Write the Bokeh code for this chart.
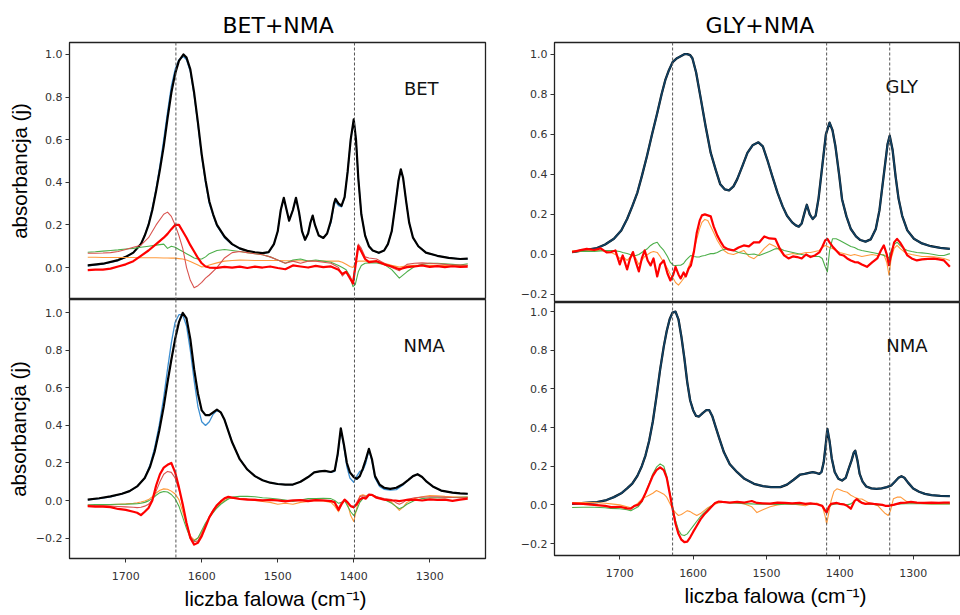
from bokeh.plotting import figure
from bokeh.models import Range1d, Span, Label, Title, FixedTicker, CustomJSTickFormatter
from bokeh.layouts import row, column
from bokeh.embed import file_html
from bokeh.resources import INLINE

# ---------------- data: BET+NMA, top panel (BET) ----------------
TL_x = [1750,1730,1710,1700,1690,1680,1675,1670,1665,1660,1655,1650,1645,1640,1635,1630,1624,1620,1615,1610,
        1605,1600,1595,1590,1585,1580,1570,1560,1550,1540,1530,1520,1512,1505,1500,1496,1492,1489,1485,1480,
        1476,1472,1468,1464,1460,1457,1454,1451,1446,1440,1435,1430,1426,1424,1420,1416,1412,1408,1404,1400,
        1397,1394,1390,1385,1380,1375,1367,1360,1355,1350,1345,1341,1338,1335,1331,1327,1322,1315,1305,1290,
        1275,1260,1250]
TL_black = [0.010,0.018,0.035,0.05,0.07,0.11,0.15,0.2,0.27,0.36,0.46,0.57,0.70,0.82,0.91,0.97,1.0,0.985,0.93,0.82,
            0.68,0.53,0.41,0.31,0.25,0.20,0.145,0.11,0.09,0.078,0.071,0.068,0.072,0.11,0.17,0.27,0.327,0.28,0.22,0.27,
            0.327,0.26,0.17,0.13,0.16,0.21,0.244,0.2,0.15,0.139,0.16,0.22,0.30,0.322,0.30,0.29,0.33,0.45,0.6,0.695,
            0.6,0.42,0.25,0.15,0.1,0.08,0.069,0.08,0.11,0.17,0.30,0.41,0.461,0.42,0.31,0.21,0.14,0.10,0.07,0.055,
            0.045,0.04,0.042]
TL_blue = [0.008,0.016,0.033,0.048,0.07,0.11,0.15,0.205,0.28,0.37,0.48,0.60,0.73,0.85,0.93,0.975,0.99,0.975,0.92,0.81,
           0.67,0.52,0.40,0.30,0.245,0.195,0.14,0.108,0.088,0.077,0.07,0.067,0.071,0.11,0.17,0.27,0.325,0.28,0.22,0.27,
           0.325,0.26,0.17,0.13,0.16,0.21,0.242,0.2,0.15,0.138,0.16,0.21,0.29,0.31,0.29,0.285,0.33,0.45,0.6,0.69,
           0.6,0.42,0.25,0.15,0.1,0.08,0.068,0.08,0.11,0.17,0.30,0.41,0.458,0.42,0.31,0.21,0.14,0.10,0.07,0.055,
           0.045,0.04,0.041]

TLd_x = [1750,1740,1730,1720,1710,1700,1690,1680,1670,1660,1650,1645,1640,1635,1630,1625,1620,1615,1610,1605,
         1600,1595,1590,1580,1570,1560,1550,1540,1530,1520,1510,1500,1490,1480,1470,1460,1450,1440,1430,1420,
         1415,1410,1405,1401,1398,1394,1390,1385,1380,1370,1360,1350,1340,1330,1320,1310,1300,1290,1280,1270,
         1260,1250]
TL_red = [-0.012,-0.01,-0.01,-0.005,0.005,0.015,0.03,0.055,0.08,0.11,0.14,0.158,0.18,0.20,0.20,0.17,0.14,0.105,0.075,0.045,
          0.02,0.005,0.0,-0.002,0.003,0.0,0.004,-0.002,0.004,0.0,0.005,-0.002,-0.008,0.01,0.005,0.0,0.008,0.002,0.005,-0.01,
          -0.03,-0.02,-0.05,-0.075,0.0,0.10,0.075,0.04,0.025,0.03,0.015,0.005,-0.008,0.002,0.005,0.01,0.003,0.007,0.002,0.006,
          0.003,0.004]
TL_lred = [0.067,0.067,0.068,0.07,0.075,0.085,0.095,0.105,0.14,0.20,0.25,0.26,0.24,0.20,0.15,0.09,0.0,-0.06,-0.095,-0.085,
           -0.07,-0.05,-0.035,0.0,0.045,0.07,0.075,0.07,0.065,0.06,0.05,0.035,0.02,0.03,0.02,0.03,0.03,0.025,0.02,0.0,
           -0.04,-0.02,-0.04,-0.07,0.02,0.11,0.09,0.05,0.045,0.04,0.02,0.0,-0.015,0.015,0.02,0.022,0.02,0.018,0.015,0.012,
           0.012,0.01]
TL_green = [0.072,0.074,0.077,0.08,0.083,0.087,0.09,0.095,0.10,0.105,0.11,0.09,0.10,0.095,0.085,0.075,0.065,0.055,0.045,0.04,
            0.04,0.05,0.065,0.08,0.085,0.08,0.075,0.07,0.065,0.06,0.05,0.035,0.02,0.035,0.04,0.03,0.035,0.03,0.025,0.01,
            0.0,-0.01,-0.04,-0.09,-0.08,-0.02,0.01,0.02,0.022,0.022,0.015,-0.01,-0.05,-0.02,0.005,0.015,0.02,0.02,0.018,0.015,
            0.012,0.018]
TL_orange = [0.048,0.048,0.047,0.047,0.047,0.047,0.047,0.046,0.046,0.046,0.045,0.045,0.044,0.044,0.042,0.04,0.035,0.028,0.02,0.012,
             0.003,0.005,0.012,0.022,0.03,0.033,0.035,0.034,0.033,0.033,0.033,0.033,0.032,0.032,0.032,0.031,0.031,0.03,0.03,0.03,
             0.025,0.015,0.005,0.0,0.02,0.03,0.03,0.03,0.03,0.028,0.02,0.01,0.002,0.008,0.01,0.01,0.01,0.01,0.01,0.01,
             0.01,0.01]

# ---------------- data: BET+NMA, bottom panel (NMA) ----------------
BL_x = [1750,1735,1720,1705,1695,1685,1675,1668,1662,1656,1650,1645,1640,1635,1630,1625,1620,1615,1610,1605,
        1600,1595,1590,1585,1580,1575,1570,1565,1560,1550,1540,1530,1520,1510,1500,1490,1480,1470,1460,1452,
        1445,1438,1430,1425,1421,1417,1413,1409,1405,1400,1396,1392,1388,1384,1380,1376,1372,1366,1360,1352,
        1344,1336,1328,1322,1316,1310,1304,1296,1285,1270,1260,1250]
BL_black = [0.005,0.012,0.022,0.036,0.05,0.075,0.12,0.18,0.26,0.37,0.50,0.63,0.75,0.86,0.95,1.0,0.97,0.86,0.70,0.57,
            0.48,0.455,0.455,0.47,0.484,0.47,0.43,0.37,0.31,0.22,0.165,0.13,0.108,0.095,0.088,0.085,0.085,0.1,0.125,0.15,
            0.155,0.158,0.152,0.16,0.25,0.385,0.30,0.20,0.15,0.125,0.115,0.13,0.17,0.22,0.275,0.22,0.13,0.085,0.068,0.062,
            0.068,0.085,0.11,0.13,0.14,0.125,0.1,0.075,0.053,0.042,0.038,0.036]
BL_blue = [0.003,0.01,0.02,0.035,0.05,0.075,0.12,0.19,0.28,0.40,0.55,0.70,0.84,0.95,0.99,0.99,0.93,0.80,0.64,0.50,
           0.42,0.40,0.42,0.46,0.48,0.47,0.43,0.37,0.31,0.22,0.165,0.13,0.108,0.095,0.088,0.085,0.085,0.1,0.125,0.15,
           0.155,0.158,0.15,0.155,0.24,0.38,0.29,0.18,0.12,0.097,0.13,0.155,0.16,0.2,0.27,0.21,0.12,0.075,0.06,0.055,
           0.058,0.08,0.11,0.13,0.14,0.125,0.1,0.075,0.053,0.042,0.038,0.036]

BLd_x = [1750,1740,1730,1720,1710,1700,1690,1685,1680,1675,1670,1665,1660,1655,1650,1645,1640,1635,1630,1625,
         1620,1615,1610,1605,1600,1595,1590,1585,1580,1575,1570,1565,1560,1550,1540,1530,1520,1510,1500,1490,
         1480,1470,1460,1450,1440,1430,1425,1420,1416,1412,1408,1404,1400,1396,1392,1388,1384,1380,1376,1370,
         1360,1350,1345,1340,1335,1330,1320,1310,1300,1290,1280,1270,1260,1250]
BL_red = [-0.03,-0.033,-0.033,-0.035,-0.045,-0.05,-0.06,-0.065,-0.078,-0.06,-0.04,0.0,0.08,0.14,0.175,0.19,0.2,0.15,0.07,-0.02,
          -0.12,-0.2,-0.235,-0.225,-0.19,-0.14,-0.09,-0.055,-0.025,-0.005,0.012,0.02,0.015,0.008,0.005,0.003,0.0,0.003,0.0,-0.005,
          0.0,0.002,-0.003,0.002,0.0,-0.003,-0.01,-0.05,-0.02,0.005,-0.01,-0.03,-0.035,-0.02,0.005,0.015,0.01,0.03,0.03,0.015,
          0.005,0.0,0.0,-0.003,0.0,0.003,0.005,0.0,0.006,0.003,0.005,-0.002,0.005,0.01]
BL_lred = [-0.025,-0.027,-0.028,-0.03,-0.032,-0.034,-0.036,-0.038,-0.036,-0.03,-0.02,0.005,0.05,0.1,0.14,0.155,0.15,0.12,0.06,-0.03,
           -0.12,-0.19,-0.22,-0.215,-0.18,-0.13,-0.085,-0.05,-0.025,-0.005,0.008,0.015,0.015,0.01,0.008,0.006,0.004,0.004,0.003,0.0,
           0.002,0.004,0.002,0.004,0.003,0.0,-0.01,-0.04,-0.01,0.005,-0.01,-0.03,-0.04,-0.01,0.02,0.025,0.02,0.035,0.03,0.02,
           0.01,0.005,-0.01,-0.02,-0.01,0.005,0.015,0.018,0.02,0.02,0.018,0.016,0.015,0.015]
BL_orange = [-0.03,-0.028,-0.025,-0.022,-0.02,-0.018,-0.015,-0.012,-0.008,-0.003,0.005,0.02,0.04,0.055,0.062,0.06,0.05,0.035,0.005,-0.06,
             -0.13,-0.19,-0.21,-0.2,-0.17,-0.13,-0.09,-0.06,-0.035,-0.015,0.0,0.01,0.012,0.01,0.008,0.0,-0.005,-0.01,-0.02,-0.015,
             -0.02,-0.01,-0.005,0.0,-0.003,-0.01,-0.03,-0.06,-0.02,0.0,-0.02,-0.08,-0.112,-0.04,0.025,0.03,0.025,0.03,0.028,0.015,
             0.005,-0.01,-0.03,-0.053,-0.035,-0.01,0.01,0.02,0.027,0.025,0.022,0.02,0.018,0.018]
BL_green = [-0.023,-0.022,-0.022,-0.021,-0.02,-0.02,-0.018,-0.017,-0.015,-0.01,-0.002,0.01,0.028,0.042,0.048,0.045,0.032,0.01,-0.03,-0.09,
            -0.15,-0.2,-0.215,-0.2,-0.16,-0.12,-0.09,-0.065,-0.04,-0.02,-0.005,0.008,0.018,0.022,0.022,0.02,0.015,0.012,0.008,0.003,
            -0.005,0.003,0.01,0.01,0.012,0.01,0.0,-0.015,-0.01,0.0,-0.03,-0.06,-0.08,-0.05,-0.01,0.01,0.02,0.03,0.03,0.02,
            0.005,-0.015,-0.03,-0.044,-0.035,-0.02,0.0,0.01,0.015,0.015,0.015,0.016,0.017,0.018]

# ---------------- data: GLY+NMA, top panel (GLY) ----------------
TR_x = [1765,1750,1731,1720,1708,1698,1690,1683,1676,1670,1663,1656,1649,1643,1638,1633,1628,1622,1617,1612,
        1608,1604,1601,1596,1590,1583,1576,1569,1563,1557,1551,1545,1540,1533,1526,1519,1511,1505,1499,1492,
        1485,1478,1472,1465,1460,1456,1452,1448,1445,1441,1437,1433,1429,1424,1419,1414,1410,1406,1401,1397,
        1391,1385,1378,1372,1365,1358,1351,1346,1342,1338,1335,1332,1328,1324,1320,1315,1308,1299,1288,1276,
        1263,1250]
TR_black = [0.012,0.02,0.032,0.05,0.078,0.12,0.177,0.24,0.309,0.39,0.49,0.6,0.705,0.8,0.87,0.92,0.96,0.98,0.99,1.0,
            1.0,0.995,0.98,0.91,0.787,0.64,0.507,0.42,0.35,0.325,0.32,0.34,0.375,0.44,0.507,0.545,0.56,0.54,0.474,0.39,
            0.309,0.24,0.193,0.16,0.145,0.139,0.155,0.21,0.248,0.2,0.177,0.193,0.28,0.44,0.6,0.658,0.62,0.54,0.4,0.276,
            0.19,0.127,0.09,0.072,0.064,0.075,0.127,0.22,0.34,0.46,0.55,0.593,0.52,0.39,0.28,0.193,0.12,0.078,0.055,0.041,
            0.033,0.028]
TR_blue = TR_black

TRd_x = [1765,1755,1745,1735,1726,1718,1712,1706,1700,1696,1690,1686,1682,1678,1674,1670,1666,1662,1658,1654,
         1649,1645,1640,1635,1631,1627,1624,1620,1617,1613,1610,1606,1603,1599,1595,1591,1588,1584,1580,1576,
         1572,1567,1562,1558,1552,1545,1538,1531,1524,1517,1510,1503,1496,1488,1482,1476,1470,1464,1458,1452,
         1446,1440,1434,1428,1424,1420,1417,1414,1410,1405,1400,1395,1390,1385,1380,1375,1370,1363,1356,1349,
         1344,1340,1336,1333,1330,1326,1322,1318,1313,1308,1302,1295,1288,1280,1272,1265,1258,1250]
TR_red = [0.012,0.02,0.028,0.022,0.03,0.01,0.012,0.02,-0.05,-0.005,-0.075,-0.02,0.012,-0.04,-0.085,-0.02,0.02,-0.03,-0.055,-0.02,
          -0.11,-0.05,-0.03,-0.095,-0.13,-0.1,-0.062,-0.1,-0.12,-0.09,-0.11,-0.07,-0.054,0.012,0.11,0.17,0.195,0.2,0.195,0.19,
          0.14,0.094,0.06,0.037,0.025,0.02,0.035,0.045,0.04,0.061,0.06,0.09,0.08,0.078,0.03,-0.005,-0.02,-0.01,-0.013,-0.02,
          0.0,-0.013,-0.005,0.01,0.037,0.07,0.078,0.06,0.04,0.02,0.0,-0.005,-0.02,-0.03,-0.038,-0.04,-0.05,-0.062,-0.04,-0.02,
          0.02,0.045,0.0,-0.054,0.0,0.06,0.078,0.06,0.03,-0.005,-0.02,-0.03,-0.025,-0.022,-0.021,-0.025,-0.03,-0.062]
TR_orange = [0.02,0.015,0.018,0.02,0.02,0.015,0.01,0.0,-0.02,-0.01,-0.03,-0.015,-0.005,-0.02,-0.05,-0.03,-0.01,0.0,0.01,0.015,
             0.01,-0.01,-0.04,-0.07,-0.1,-0.12,-0.14,-0.153,-0.14,-0.12,-0.1,-0.06,-0.03,0.02,0.078,0.13,0.16,0.175,0.17,0.14,
             0.11,0.07,0.04,0.02,0.005,0.0,0.01,0.02,-0.01,-0.021,0.0,0.03,0.053,0.04,0.02,-0.005,0.0,0.005,0.0,0.005,
             0.01,0.01,0.015,0.02,0.035,0.045,0.04,0.035,0.03,0.02,0.01,0.005,0.0,-0.005,0.0,-0.005,-0.01,-0.005,0.0,-0.005,
             0.0,0.0,-0.04,-0.104,-0.02,0.03,0.045,0.03,0.015,0.005,0.0,-0.005,-0.01,-0.01,-0.012,-0.015,-0.02,-0.03]
TR_green = [0.012,0.015,0.016,0.015,0.018,0.02,0.02,0.018,0.015,0.01,0.005,0.0,-0.005,-0.005,0.0,0.01,0.02,0.03,0.045,0.055,
            0.061,0.04,0.02,-0.01,-0.04,-0.054,-0.055,-0.054,-0.054,-0.045,-0.03,-0.015,-0.005,-0.01,-0.013,-0.012,-0.008,-0.005,0.0,0.004,
            0.004,0.01,0.02,0.025,0.028,0.02,0.01,0.005,0.0,0.002,-0.005,0.005,0.015,0.028,0.03,0.02,0.015,0.01,0.005,0.0,
            -0.005,-0.008,-0.01,-0.01,-0.02,-0.06,-0.087,0.02,0.078,0.078,0.07,0.06,0.05,0.04,0.035,0.025,0.02,0.015,0.01,0.005,
            0.0,-0.005,-0.01,-0.02,0.02,0.05,0.061,0.045,0.03,0.02,0.015,0.01,0.008,0.005,0.0,-0.005,-0.005,0.004]

# ---------------- data: GLY+NMA, bottom panel (NMA) ----------------
BR_x = [1765,1748,1731,1718,1708,1698,1690,1683,1676,1670,1665,1660,1655,1650,1645,1640,1636,1632,1628,1624,
        1620,1616,1612,1608,1604,1600,1596,1592,1587,1582,1578,1574,1569,1564,1558,1550,1540,1530,1517,1505,
        1494,1481,1472,1463,1454,1448,1442,1437,1432,1428,1425,1422,1419,1417,1414,1411,1407,1402,1397,1392,
        1388,1384,1381,1379,1376,1373,1369,1364,1357,1350,1343,1336,1330,1325,1320,1316,1312,1307,1300,1292,
        1284,1275,1263,1250]
BR_black = [0.005,0.01,0.014,0.025,0.04,0.06,0.085,0.11,0.15,0.2,0.255,0.33,0.43,0.56,0.7,0.82,0.9,0.96,0.995,1.0,
            0.96,0.87,0.76,0.634,0.54,0.49,0.46,0.457,0.475,0.49,0.49,0.46,0.4,0.34,0.272,0.21,0.169,0.135,0.109,0.097,
            0.092,0.092,0.105,0.13,0.157,0.16,0.165,0.169,0.165,0.16,0.17,0.22,0.32,0.393,0.33,0.24,0.17,0.135,0.126,0.14,
            0.186,0.23,0.27,0.28,0.23,0.16,0.12,0.095,0.085,0.083,0.085,0.092,0.1,0.12,0.14,0.148,0.14,0.115,0.085,0.068,
            0.057,0.05,0.047,0.045]
BR_blue = BR_black

BRd_x = [1765,1750,1735,1720,1712,1700,1690,1685,1680,1675,1670,1665,1660,1655,1650,1645,1640,1636,1632,1628,
         1624,1620,1616,1612,1608,1604,1600,1595,1590,1585,1580,1575,1570,1565,1560,1550,1540,1530,1520,1513,
         1505,1495,1485,1475,1465,1455,1447,1440,1431,1424,1420,1418,1415,1412,1408,1404,1400,1395,1390,1385,
         1380,1377,1374,1370,1365,1360,1354,1348,1342,1338,1334,1331,1327,1322,1317,1310,1303,1295,1285,1275,
         1265,1258,1250]
BR_red = [0.008,0.005,0.0,-0.005,-0.012,-0.01,-0.018,-0.02,-0.005,0.0,0.02,0.06,0.105,0.15,0.18,0.194,0.18,0.14,0.06,-0.02,
          -0.098,-0.15,-0.18,-0.193,-0.19,-0.168,-0.14,-0.108,-0.075,-0.05,-0.03,-0.01,0.01,0.017,0.015,0.012,0.015,0.012,0.02,0.01,
          0.008,0.006,0.012,0.01,0.008,0.01,0.005,0.008,0.003,-0.005,-0.03,-0.04,-0.01,0.005,0.008,0.01,0.005,0.003,-0.005,-0.02,
          0.02,0.03,0.02,0.01,0.005,0.008,0.005,0.003,0.0,-0.005,-0.005,-0.003,0.0,0.005,0.01,0.012,0.015,0.012,0.01,0.012,
          0.01,0.012,0.012]
BR_green = [-0.014,-0.012,-0.012,-0.015,-0.018,-0.02,-0.025,-0.03,-0.02,-0.01,0.015,0.06,0.11,0.16,0.195,0.212,0.2,0.15,0.07,-0.01,
            -0.08,-0.13,-0.155,-0.159,-0.15,-0.13,-0.11,-0.085,-0.06,-0.04,-0.022,-0.005,0.01,0.017,0.015,0.01,0.008,0.006,0.005,0.003,
            0.003,0.003,0.002,0.003,0.003,0.004,0.005,0.005,0.003,-0.005,-0.03,-0.04,-0.015,0.0,0.003,0.005,0.005,0.003,0.0,0.005,
            0.02,0.03,0.025,0.012,0.005,0.003,0.002,0.0,-0.002,-0.005,-0.005,-0.003,0.0,0.003,0.005,0.006,0.006,0.006,0.006,0.005,
            0.005,0.005,0.005]
BR_orange = [0.012,0.012,0.012,0.008,0.005,0.0,-0.01,-0.015,-0.005,0.01,0.03,0.04,0.05,0.06,0.074,0.065,0.055,0.04,0.01,-0.02,
             -0.04,-0.055,-0.05,-0.04,-0.03,-0.035,-0.045,-0.055,-0.045,-0.03,-0.015,-0.005,0.005,0.01,0.012,0.012,0.012,0.005,-0.01,-0.04,
             -0.025,-0.01,0.0,0.005,0.005,0.0,-0.005,0.005,0.009,-0.005,-0.06,-0.098,-0.04,0.02,0.07,0.083,0.078,0.07,0.065,0.05,
             0.04,0.035,0.031,0.03,0.02,0.01,0.005,-0.005,-0.03,-0.045,-0.055,-0.03,0.031,0.04,0.04,0.02,0.01,0.008,0.006,0.005,
             0.005,0.005,0.005]

LEFT_MARKS = [1634, 1399]
RIGHT_MARKS = [1628, 1418, 1332]
Y_TICKS = [-0.2, 0.0, 0.2, 0.4, 0.6, 0.8, 1.0]
X_TICKS = [1700, 1600, 1500, 1400, 1300]

for xs, ys in [(TL_x, TL_black), (TL_x, TL_blue), (TLd_x, TL_red), (TLd_x, TL_lred), (TLd_x, TL_green), (TLd_x, TL_orange),
               (BL_x, BL_black), (BL_x, BL_blue), (BLd_x, BL_red), (BLd_x, BL_lred), (BLd_x, BL_green), (BLd_x, BL_orange),
               (TR_x, TR_black), (TRd_x, TR_red), (TRd_x, TR_orange), (TRd_x, TR_green),
               (BR_x, BR_black), (BRd_x, BR_red), (BRd_x, BR_green), (BRd_x, BR_orange)]:
    assert len(xs) == len(ys), (len(xs), len(ys))

LABEL_FONT = "Liberation Sans"
TICK_FONT = "DejaVu Sans"

yfmt = "return tick.toFixed(1).replace('-', '\u2212');"
xfmt = "return tick.toFixed(0);"


def make_panel(width, height, xr, yr, mb_left, mb_right, mb_top, mb_bottom, show_x, ylabel, ylabel_standoff):
    p = figure(width=width, height=height, x_range=Range1d(*xr), y_range=Range1d(*yr),
               output_backend="svg", toolbar_location=None,
               min_border_left=mb_left, min_border_right=mb_right,
               min_border_top=mb_top, min_border_bottom=mb_bottom)
    p.grid.visible = False
    p.outline_line_color = "#222222"
    p.outline_line_width = 1.3
    p.background_fill_color = "white"
    p.border_fill_color = "white"
    ya = p.yaxis[0]
    ya.ticker = FixedTicker(ticks=Y_TICKS)
    ya.formatter = CustomJSTickFormatter(code=yfmt)
    ya.major_label_text_font = TICK_FONT
    ya.major_label_text_font_size = "11px"
    ya.major_label_text_color = "#333333"
    ya.major_tick_out = 4
    ya.major_tick_in = 0
    ya.minor_tick_out = 0
    ya.minor_tick_in = 0
    ya.major_label_standoff = 3
    ya.axis_line_color = "#222222"
    ya.major_tick_line_color = "#333333"
    if ylabel:
        ya.axis_label = ylabel
        ya.axis_label_text_font = LABEL_FONT
        ya.axis_label_text_font_size = "20.5px"
        ya.axis_label_text_font_style = "normal"
        ya.axis_label_text_color = "#000000"
        ya.axis_label_standoff = ylabel_standoff
    xa = p.xaxis[0]
    if show_x:
        xa.ticker = FixedTicker(ticks=X_TICKS)
        xa.formatter = CustomJSTickFormatter(code=xfmt)
        xa.major_label_text_font = TICK_FONT
        xa.major_label_text_font_size = "11px"
        xa.major_label_text_color = "#333333"
        xa.major_tick_out = 4
        xa.major_tick_in = 0
        xa.minor_tick_out = 0
        xa.minor_tick_in = 0
        xa.major_label_standoff = 9
        xa.axis_line_color = "#222222"
        xa.major_tick_line_color = "#333333"
    else:
        xa.visible = False
    return p


def add_marks(p, marks):
    for m in marks:
        p.add_layout(Span(location=m, dimension="height", line_color="#555555",
                          line_width=1, line_dash="3 2"))


def add_name(p, x, y, text):
    p.add_layout(Label(x=x, y=y, text=text, text_baseline="middle", text_align="left",
                       text_font=TICK_FONT, text_font_size="18px", text_color="#111111"))


def add_top_title(p, text, offset):
    p.title.text = text
    p.title.align = "left"
    p.title.offset = offset
    p.title.text_font = TICK_FONT
    p.title.text_font_size = "22px"
    p.title.text_font_style = "normal"
    p.title.text_color = "#000000"
    p.title.standoff = 10


def add_xlabel(p, offset):
    p.add_layout(Title(text="liczba falowa (cm\u207b\u00b9)", align="left", offset=offset,
                       text_font=LABEL_FONT, text_font_size="21px", text_font_style="normal",
                       text_color="#000000", standoff=5), "below")


LEFT_XR = (1774, 1226.6)
RIGHT_XR = (1789, 1235.5)

# top-left: frame x 69..485, y 42..299
tl = make_panel(493, 299, LEFT_XR, (-0.150, 1.056), 69, 8, 42, 0, False, "absorbancja (j)", 11)
add_top_title(tl, "BET+NMA", 153)
add_marks(tl, LEFT_MARKS)
tl.line(TL_x, TL_blue, line_color="#3d8fd1", line_width=1.3, line_join="round")
tl.line(TL_x, TL_black, line_color="#000000", line_width=2.2, line_join="round")
tl.line(TLd_x, TL_orange, line_color="#ff9a3c", line_width=1.1, line_join="round")
tl.line(TLd_x, TL_green, line_color="#4daf4a", line_width=1.1, line_join="round")
tl.line(TLd_x, TL_lred, line_color="#d9534f", line_width=1.1, line_join="round")
tl.line(TLd_x, TL_red, line_color="#ff0000", line_width=2.2, line_join="round")
add_name(tl, 1334, 0.84, "BET")

# bottom-left: frame y 299..558
bl = make_panel(493, 316, LEFT_XR, (-0.309, 1.071), 69, 8, 0, 57, True, "absorbancja (j)", 3)
add_marks(bl, LEFT_MARKS)
bl.line(BL_x, BL_blue, line_color="#3d8fd1", line_width=1.3, line_join="round")
bl.line(BL_x, BL_black, line_color="#000000", line_width=2.2, line_join="round")
bl.line(BLd_x, BL_orange, line_color="#ff9a3c", line_width=1.1, line_join="round")
bl.line(BLd_x, BL_green, line_color="#4daf4a", line_width=1.1, line_join="round")
bl.line(BLd_x, BL_lred, line_color="#d9534f", line_width=1.1, line_join="round")
bl.line(BLd_x, BL_red, line_color="#ff0000", line_width=2.2, line_join="round")
add_name(bl, 1334.6, 0.824, "NMA")
add_xlabel(bl, 115)

# top-right: frame x 554..960, y 42..302
tr = make_panel(467, 302, RIGHT_XR, (-0.240, 1.0584), 61, 0, 42, 0, False, None, 0)
add_top_title(tr, "GLY+NMA", 151)
add_marks(tr, RIGHT_MARKS)
tr.line(TR_x, TR_black, line_color="#000000", line_width=2.3, line_join="round")
tr.line(TR_x, TR_blue, line_color="#1f77b4", line_width=1.7, line_alpha=0.55, line_join="round")
tr.line(TRd_x, TR_orange, line_color="#ff9a3c", line_width=1.1, line_join="round")
tr.line(TRd_x, TR_green, line_color="#4daf4a", line_width=1.1, line_join="round")
tr.line(TRd_x, TR_red, line_color="#ff0000", line_width=2.2, line_join="round")
add_name(tr, 1337.8, 0.837, "GLY")

# bottom-right: frame y 302..555
br = make_panel(467, 313, RIGHT_XR, (-0.262, 1.047), 61, 0, 0, 60, True, None, 0)
add_marks(br, RIGHT_MARKS)
br.line(BR_x, BR_black, line_color="#000000", line_width=2.3, line_join="round")
br.line(BR_x, BR_blue, line_color="#1f77b4", line_width=1.7, line_alpha=0.55, line_join="round")
br.line(BRd_x, BR_orange, line_color="#ff9a3c", line_width=1.1, line_join="round")
br.line(BRd_x, BR_green, line_color="#4daf4a", line_width=1.1, line_join="round")
br.line(BRd_x, BR_red, line_color="#ff0000", line_width=2.2, line_join="round")
add_name(br, 1336.8, 0.827, "NMA")
add_xlabel(br, 130)

layout = row(column(tl, bl), column(tr, br))

open("out.html", "w").write(file_html(layout, INLINE))
